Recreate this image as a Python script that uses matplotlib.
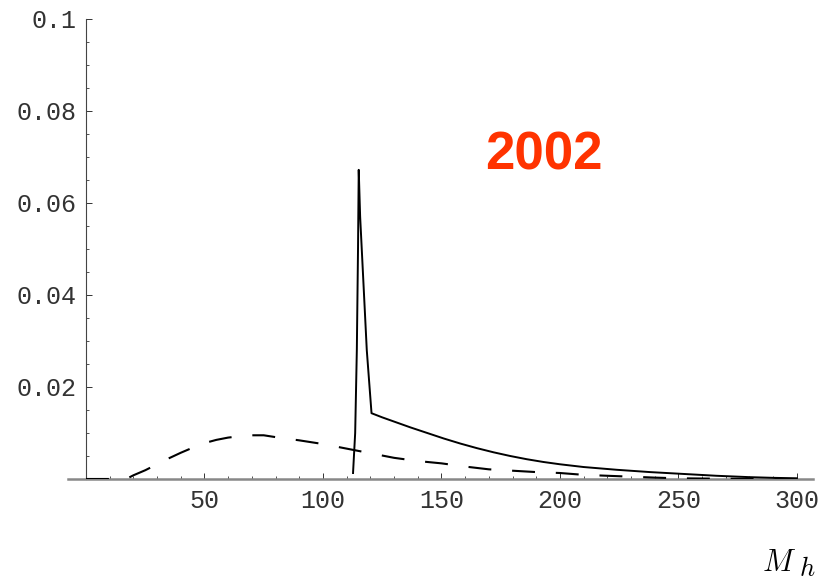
import matplotlib
matplotlib.use("Agg")
import matplotlib.pyplot as plt
from matplotlib.ticker import MultipleLocator, FixedLocator

plt.rcParams["lines.scale_dashes"] = False
plt.rcParams["mathtext.fontset"] = "cm"

# dashed curve (broad bump)
mh_dash = [0, 10, 17, 20, 25, 30, 35, 40, 45, 50, 55, 60, 65, 70, 75, 80, 90, 100,
           110, 120, 130, 140, 150, 160, 170, 180, 190, 200, 210, 220, 230, 240,
           250, 260, 270, 280, 290, 300]
p_dash = [0, 0, 0, 0.0008, 0.0019, 0.0032, 0.0045, 0.0057, 0.0068, 0.0078, 0.0085,
          0.0090, 0.0093, 0.0095, 0.0095, 0.0091, 0.0084, 0.0076, 0.0066, 0.0056,
          0.0046, 0.0039, 0.0034, 0.0027, 0.0021, 0.0018, 0.0015, 0.0013, 0.0009,
          0.0007, 0.0005, 0.0003, 0.00015, 0.0001, 0.00005, 0.00003, 0.00001, 0]

# solid curve (sharp peak near 115)
mh_solid = [112.7, 113.6, 114.3, 114.8, 115.1, 115.7, 117.1, 118.5, 120.5, 125, 131,
            137, 144, 151, 158, 165, 172, 179, 186, 193, 200, 210, 224, 238, 252,
            266, 280, 290, 300]
p_solid = [0.0013, 0.010, 0.028, 0.050, 0.0672, 0.057, 0.0425, 0.028, 0.0143, 0.0134,
           0.0123, 0.0112, 0.0100, 0.0088, 0.0077, 0.0067, 0.0058, 0.0050, 0.0043,
           0.0037, 0.0032, 0.0026, 0.0020, 0.0015, 0.0011, 0.0007, 0.0004, 0.00025,
           0.00015]

x_major = [50, 100, 150, 200, 250, 300]
x_labels = ["50", "100", "150", "200", "250", "300"]
y_major = [0.02, 0.04, 0.06, 0.08, 0.1]
y_labels = ["0.02", "0.04", "0.06", "0.08", "0.1"]

fig = plt.figure(figsize=(8.21, 5.82), dpi=100)
ax = fig.add_axes([0.0828, 0.177, 0.908, 0.7904])

ax.plot(mh_solid, p_solid, color="black", lw=1.4, zorder=3)
ln, = ax.plot(mh_dash, p_dash, color="black", lw=1.5, zorder=3)
ln.set_dashes((16.5, 15))

ax.set_xlim(-7.6, 307)
ax.set_ylim(0, 0.1)

ax.spines["top"].set_visible(False)
ax.spines["right"].set_visible(False)
ax.spines["left"].set_position(("data", 0))
ax.spines["left"].set_color("#444444")
ax.spines["left"].set_linewidth(0.8)
ax.spines["bottom"].set_color("#888888")
ax.spines["bottom"].set_linewidth(1.8)

ax.xaxis.set_major_locator(FixedLocator(x_major))
ax.set_xticklabels(x_labels)
ax.xaxis.set_minor_locator(MultipleLocator(10))
ax.yaxis.set_major_locator(FixedLocator(y_major))
ax.set_yticklabels(y_labels)
ax.yaxis.set_minor_locator(MultipleLocator(0.005))

for a in (ax.xaxis, ax.yaxis):
    a.set_tick_params(which="major", direction="in", length=4.3, width=0.7, color="#333333")
    a.set_tick_params(which="minor", direction="in", length=2.5, width=0.6, color="#333333")
ax.tick_params(axis="x", which="major", pad=7)
ax.tick_params(axis="y", which="major", pad=6.5)

for lab in ax.get_xticklabels() + ax.get_yticklabels():
    lab.set_fontfamily("Liberation Mono")
    lab.set_fontsize(18)
    lab.set_color("#333333")

ax.text(193.2, 0.0672, "2002", color="#ff3300", fontsize=38, fontweight="bold",
        family="Liberation Sans", ha="center", va="baseline")

# axis label M_h, subscript drawn large like the original
fig.text(762 / 821, 1 - 571 / 582, r"$M$", fontsize=22, ha="left", va="baseline")
fig.text(799 / 821, 1 - 576 / 582, r"$h$", fontsize=19, ha="left", va="baseline")

fig.savefig("out.png", dpi=100)
